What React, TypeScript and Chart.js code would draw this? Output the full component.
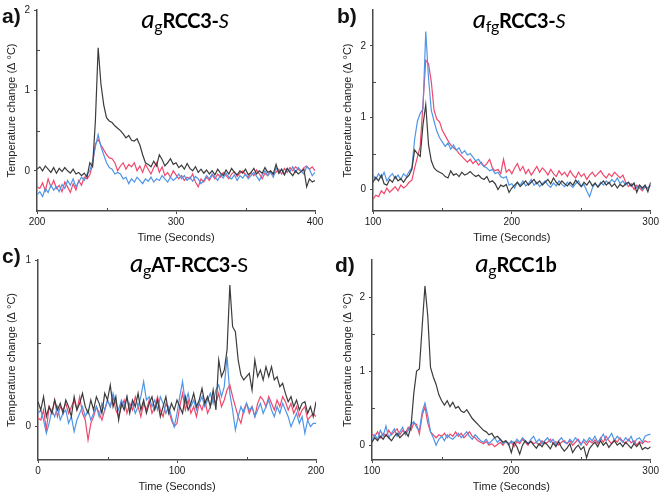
import React, { useEffect, useRef } from 'react';
import { Chart, registerables } from 'chart.js';
Chart.register(...registerables);

const BLACK = '#3c3c3c';
const RED = '#f0476b';
const BLUE = '#4f95e6';
const AXIS = '#4a4a4a';

// ---------- Panel a: agRCC3-S (t = 200..400 s, every 2 s) ----------
const A_T0 = 200;
const A_STEP = 2;
const A_BLACK = [
  0.02, 0.05, 0.00, 0.06, 0.02, -0.02, 0.04, -0.03, 0.03, -0.01,
  0.04, 0.00, -0.03, 0.02, -0.04, -0.02, -0.06, -0.03, -0.08, 0.10,
  0.05, 0.62, 1.53, 1.08, 0.82, 0.66, 0.62, 0.60, 0.56, 0.53,
  0.50, 0.46, 0.41, 0.44, 0.38, 0.37, 0.40, 0.32, 0.20, 0.10,
  0.08, 0.05, 0.12, 0.06, 0.20, 0.14, 0.06, 0.10, 0.15, 0.08,
  0.10, 0.04, 0.07, 0.02, 0.09, 0.03, 0.00, 0.05, -0.02, 0.02,
  -0.03, 0.01, -0.04, 0.00, -0.05, 0.02, -0.03, -0.06, 0.01, -0.04,
  0.03, -0.02, -0.05, 0.00, -0.03, 0.02, -0.05, -0.02, 0.03, -0.04,
  0.00, -0.03, 0.04, -0.02, 0.00, -0.04, 0.08, -0.03, 0.02, -0.05,
  0.03, -0.02, -0.06, 0.00, -0.04, -0.01, 0.02, -0.20, -0.10, -0.14,
  -0.12,
];
const A_RED = [
  -0.20, -0.22, -0.15, -0.25, -0.10, -0.20, -0.12, -0.22, -0.18, -0.26,
  -0.14, -0.20, -0.27, -0.16, -0.24, -0.12, -0.18, -0.08, -0.10, -0.05,
  0.08, 0.33, 0.39, 0.32, 0.26, 0.20, 0.16, 0.15, 0.10, 0.00,
  0.06, 0.10, 0.02, 0.08, 0.05, 0.10, 0.00, 0.06, -0.02, 0.08,
  0.02, -0.04, 0.04, 0.10, -0.02, 0.05, -0.06, -0.02, -0.08, 0.00,
  -0.05, -0.10, -0.06, -0.12, -0.08, -0.10, -0.04, -0.14, -0.20, -0.10,
  -0.14, -0.08, -0.12, -0.05, -0.10, -0.04, -0.08, -0.02, -0.06, -0.10,
  -0.04, -0.01, -0.07, -0.03, 0.00, -0.05, -0.08, -0.02, -0.06, 0.01,
  -0.04, -0.10, -0.03, -0.06, 0.00, -0.05, -0.02, 0.02, -0.04, 0.03,
  -0.02, 0.04, 0.00, 0.05, 0.02, -0.01, 0.04, 0.06, 0.02, 0.05,
  0.00,
];
const A_BLUE = [
  -0.30, -0.26, -0.32, -0.22, -0.27, -0.18, -0.24, -0.20, -0.26, -0.17,
  -0.22, -0.12, -0.18, -0.10, -0.20, -0.14, -0.08, -0.12, -0.04, 0.00,
  0.12, 0.30, 0.45, 0.30, 0.20, 0.10, 0.04, 0.02, -0.04, -0.02,
  -0.04, -0.10, -0.08, -0.16, -0.10, -0.14, -0.08, -0.12, -0.16, -0.10,
  -0.13, -0.08, -0.14, -0.10, -0.12, -0.06, -0.10, -0.14, -0.08, -0.12,
  -0.09, -0.04, -0.10, -0.06, -0.12, -0.08, -0.13, -0.07, -0.10, -0.16,
  -0.12, -0.06, -0.10, -0.04, -0.08, -0.12, -0.05, -0.09, -0.03, -0.08,
  -0.10, -0.05, -0.12, -0.06, -0.09, -0.04, -0.10, -0.06, -0.02, -0.07,
  -0.12, -0.05, 0.00, -0.06, -0.02, -0.08, 0.04, -0.03, 0.02, -0.05,
  0.03, -0.01, 0.05, -0.02, 0.04, 0.00, -0.04, 0.05, 0.02, -0.06,
  -0.02,
];
const A_X_TICKS = [200, 300, 400];
const A_X_MINOR = [250, 350];
const A_Y_TICKS = [0, 1, 2];
const A_Y_MINOR = [0.5, 1.5];

// ---------- Panel b: afgRCC3-S (t = 100..300 s) ----------
const B_T0 = 100;
const B_STEP = 2;
const B_BLACK = [
  0.10, 0.17, 0.12, 0.20, 0.08, 0.06, 0.14, 0.10, 0.18, 0.12,
  0.15, 0.10, 0.16, 0.20, 0.28, 0.55, 0.50, 0.46, 0.90, 1.18,
  0.62, 0.40, 0.30, 0.26, 0.24, 0.22, 0.18, 0.16, 0.26, 0.20,
  0.22, 0.18, 0.24, 0.20, 0.22, 0.25, 0.21, 0.18, 0.20, 0.16,
  0.14, 0.18, 0.10, 0.12, 0.08, 0.00, 0.06, 0.04, 0.07, -0.04,
  0.02, 0.06, 0.10, 0.04, 0.08, 0.12, 0.06, 0.10, 0.14, 0.08,
  0.12, 0.06, 0.10, 0.14, 0.08, 0.16, 0.10, 0.06, 0.12, 0.08,
  0.05, 0.10, 0.06, 0.13, 0.08, 0.04, 0.10, 0.06, 0.12, 0.05,
  0.09, 0.03, 0.08, 0.12, 0.06, 0.10, 0.04, 0.08, 0.02, 0.07,
  0.04, 0.08, 0.10, 0.05, 0.09, -0.04, 0.06, 0.02, 0.06, -0.03,
  0.10,
];
const B_RED = [
  -0.14, -0.08, -0.10, -0.02, -0.06, 0.02, -0.04, 0.00, 0.04, -0.02,
  0.06, 0.02, 0.05, 0.10, 0.13, 0.30, 0.45, 0.60, 1.19, 1.80,
  1.75, 1.50, 1.10, 0.98, 0.94, 0.82, 0.75, 0.68, 0.62, 0.58,
  0.55, 0.50, 0.46, 0.42, 0.38, 0.42, 0.36, 0.40, 0.34, 0.38,
  0.32, 0.36, 0.42, 0.30, 0.26, 0.28, 0.22, 0.42, 0.24, 0.28,
  0.22, 0.30, 0.36, 0.26, 0.32, 0.22, 0.28, 0.20, 0.26, 0.32,
  0.24, 0.30, 0.26, 0.20, 0.28, 0.22, 0.18, 0.26, 0.20, 0.24,
  0.18, 0.26, 0.20, 0.16, 0.24, 0.18, 0.22, 0.14, 0.20, 0.24,
  0.18, 0.22, 0.26, 0.20, 0.16, 0.22, 0.18, 0.24, 0.20, 0.16,
  0.20, 0.10, 0.04, 0.08, 0.00, 0.06, 0.02, -0.02, 0.04, 0.02,
  0.06,
];
const B_BLUE = [
  0.20, 0.14, 0.22, 0.16, 0.24, 0.12, 0.18, 0.22, 0.15, 0.20,
  0.14, 0.22, 0.18, 0.25, 0.30, 0.70, 0.95, 1.06, 1.12, 2.20,
  1.55, 1.10, 0.95, 0.81, 0.72, 0.66, 0.60, 0.65, 0.56, 0.62,
  0.55, 0.58, 0.50, 0.54, 0.48, 0.50, 0.45, 0.40, 0.42, 0.36,
  0.32, 0.30, 0.26, 0.28, 0.22, 0.24, 0.18, 0.16, 0.18, 0.06,
  0.08, 0.02, 0.10, 0.06, 0.12, 0.05, 0.08, 0.14, 0.06, 0.10,
  0.04, 0.08, 0.12, 0.06, 0.03, 0.09, 0.05, 0.12, 0.07, 0.04,
  0.10, 0.06, 0.03, 0.08, 0.12, 0.04, 0.07, -0.02, -0.10, 0.02,
  0.08, 0.04, 0.10, 0.06, 0.12, 0.08, 0.14, 0.10, 0.16, 0.08,
  0.12, 0.06, 0.10, 0.04, 0.08, 0.02, 0.06, 0.00, 0.04, 0.02,
  0.06,
];
const B_X_TICKS = [100, 200, 300];
const B_X_MINOR = [150, 250];
const B_Y_TICKS = [0, 1, 2];
const B_Y_MINOR = [0.5, 1.5];

// ---------- Panel c: agAT-RCC3-S (t = 0..200 s) ----------
const C_T0 = 0;
const C_STEP = 2;
const C_BLACK = [
  0.15, 0.10, 0.18, 0.06, 0.12, 0.08, 0.16, 0.10, 0.14, 0.08,
  0.16, 0.12, 0.06, 0.18, 0.10, 0.14, 0.20, 0.12, 0.08, 0.16,
  0.10, 0.18, 0.14, 0.08, 0.20, 0.16, 0.25, 0.12, 0.18, 0.04,
  0.14, 0.10, 0.18, 0.08, 0.16, 0.12, 0.20, 0.10, 0.16, 0.08,
  0.14, 0.18, 0.10, 0.16, 0.06, 0.12, 0.18, 0.08, 0.14, 0.10,
  0.16, 0.12, 0.08, 0.18, 0.10, 0.14, 0.20, 0.12, 0.16, 0.23,
  0.14, 0.18, 0.12, 0.22, 0.10, 0.40, 0.30, 0.34, 0.46, 0.85,
  0.60, 0.57, 0.40, 0.31, 0.28, 0.30, 0.32, 0.22, 0.40, 0.30,
  0.34, 0.28, 0.36, 0.30, 0.36, 0.28, 0.30, 0.24, 0.26, 0.20,
  0.15, 0.18, 0.12, 0.16, 0.10, 0.14, 0.15, 0.08, 0.12, 0.06,
  0.15,
];
const C_RED = [
  0.05, 0.04, 0.10, -0.02, 0.12, 0.08, 0.16, 0.06, 0.12, 0.10,
  0.14, 0.08, 0.12, 0.16, 0.10, 0.18, 0.08, 0.04, -0.08, 0.02,
  0.06, 0.12, 0.08, 0.04, 0.10, 0.16, 0.12, 0.18, 0.10, 0.06,
  0.12, 0.16, 0.08, 0.14, 0.10, 0.18, 0.12, 0.06, 0.14, 0.10,
  0.16, 0.08, 0.12, 0.18, 0.10, 0.06, 0.14, 0.10, 0.04, 0.00,
  0.02, 0.12, 0.20, 0.10, 0.16, 0.08, 0.12, 0.06, 0.14, 0.10,
  0.16, 0.08, 0.12, 0.18, 0.14, 0.20, 0.12, 0.16, 0.22, 0.25,
  0.18, 0.12, 0.06, 0.02, 0.10, 0.14, 0.08, 0.12, 0.06, 0.14,
  0.18, 0.16, 0.12, 0.18, 0.14, 0.10, 0.16, 0.12, 0.18, 0.15,
  0.10, 0.14, 0.08, 0.12, 0.06, 0.10, 0.12, 0.04, 0.06, 0.08,
  0.06,
];
const C_BLUE = [
  0.08, 0.10, 0.04, -0.04, 0.02, 0.10, 0.06, 0.12, 0.04, 0.08,
  0.10, 0.02, 0.06, -0.03, 0.04, 0.08, 0.12, 0.06, 0.10, 0.04,
  0.08, 0.12, 0.06, 0.14, 0.10, 0.16, 0.12, 0.20, 0.14, 0.10,
  0.16, 0.12, 0.18, 0.10, 0.14, 0.08, 0.12, 0.18, 0.27, 0.16,
  0.18, 0.12, 0.16, 0.10, 0.18, 0.14, 0.08, 0.12, 0.06, 0.00,
  0.08, 0.18, 0.27, 0.14, 0.20, 0.12, 0.16, 0.10, 0.14, 0.18,
  0.12, 0.16, 0.20, 0.14, 0.22, 0.25, 0.18, 0.24, 0.42, 0.20,
  0.10, -0.02, 0.06, 0.12, 0.08, 0.14, 0.10, 0.12, 0.06, 0.10,
  0.14, 0.08, 0.12, 0.16, 0.10, 0.06, 0.12, 0.08, 0.14, 0.10,
  0.06, 0.00, 0.04, 0.08, 0.02, 0.06, -0.04, 0.04, 0.00, 0.02,
  0.02,
];
const C_X_TICKS = [0, 100, 200];
const C_X_MINOR = [50, 150];
const C_Y_TICKS = [0, 1];
const C_Y_MINOR = [0.5];

// ---------- Panel d: agRCC1b (t = 100..300 s) ----------
const D_T0 = 100;
const D_STEP = 2;
const D_BLACK = [
  0.04, 0.10, 0.06, 0.12, 0.08, 0.14, 0.10, 0.06, 0.12, 0.16,
  0.10, 0.14, 0.18, 0.12, 0.25, 0.70, 1.00, 1.03, 1.60, 2.15,
  1.75, 1.05, 0.92, 0.82, 0.68, 0.60, 0.54, 0.60, 0.52, 0.58,
  0.50, 0.52, 0.46, 0.44, 0.48, 0.42, 0.36, 0.32, 0.28, 0.24,
  0.20, 0.18, 0.14, 0.16, 0.10, 0.12, 0.08, 0.04, 0.06, 0.02,
  -0.10, 0.04, -0.02, -0.12, 0.00, 0.06, 0.02, 0.05, 0.00, -0.04,
  0.02, -0.02, 0.04, 0.00, -0.05, 0.03, -0.02, 0.05, -0.03, -0.08,
  -0.04, 0.02, -0.10, -0.04, 0.00, -0.06, -0.02, -0.17, -0.05, 0.00,
  0.04, -0.02, 0.06, 0.00, 0.04, -0.03, 0.02, 0.06, 0.00, 0.03,
  -0.02, 0.04, 0.00, -0.04, 0.02, -0.02, 0.03, -0.06, -0.03, -0.05,
  -0.02,
];
const D_RED = [
  0.15, 0.12, 0.18, 0.10, 0.16, 0.12, 0.20, 0.14, 0.18, 0.22,
  0.14, 0.20, 0.16, 0.24, 0.20, 0.30, 0.28, 0.15, 0.40, 0.52,
  0.30, 0.18, 0.14, 0.10, 0.14, 0.12, 0.16, 0.10, 0.15, 0.12,
  0.18, 0.12, 0.16, 0.10, 0.14, 0.18, 0.12, 0.10, 0.06, 0.04,
  0.02, 0.05, 0.00, 0.02, -0.02, 0.01, 0.04, 0.00, 0.06, 0.02,
  0.04, -0.02, 0.05, 0.02, 0.08, 0.04, 0.00, 0.06, 0.02, 0.04,
  0.00, 0.06, 0.02, 0.04, 0.08, 0.02, 0.05, 0.00, 0.04, 0.06,
  0.02, 0.06, 0.00, 0.04, 0.08, 0.02, 0.05, 0.00, 0.06, 0.03,
  0.07, 0.02, 0.10, 0.04, 0.12, 0.06, 0.02, 0.08, 0.04, 0.10,
  0.05, 0.02, 0.08, 0.03, 0.06, 0.00, 0.05, 0.02, 0.06, 0.04,
  0.05,
];
const D_BLUE = [
  0.05, 0.14, 0.08, 0.20, 0.12, 0.26, 0.10, 0.16, 0.22, 0.12,
  0.18, 0.24, 0.14, 0.20, 0.28, 0.32, 0.24, 0.20, 0.45, 0.57,
  0.40, 0.18, 0.10, 0.00, 0.08, 0.12, 0.06, 0.14, 0.10, 0.08,
  0.12, 0.16, 0.10, 0.14, 0.18, 0.12, 0.08, 0.14, 0.10, 0.06,
  0.04, 0.08, 0.02, 0.06, 0.10, 0.04, 0.08, 0.02, 0.05, 0.00,
  0.06, 0.02, 0.08, 0.04, 0.10, 0.06, 0.02, 0.08, 0.12, 0.04,
  0.08, 0.02, 0.06, 0.10, 0.04, 0.08, 0.00, 0.06, 0.10, 0.04,
  0.02, 0.08, 0.04, 0.10, 0.06, 0.00, 0.08, 0.04, 0.10, 0.06,
  0.12, 0.04, 0.08, 0.15, 0.06, 0.10, 0.16, 0.06, 0.12, 0.08,
  0.04, 0.10, 0.06, 0.12, 0.02, 0.08, 0.10, 0.04, 0.12, 0.14,
  0.15,
];
const D_X_TICKS = [100, 200, 300];
const D_X_MINOR = [150, 250];
const D_Y_TICKS = [0, 1, 2];
const D_Y_MINOR = [0.5, 1.5];

const X_TITLE = 'Time (Seconds)';
const Y_TITLE = 'Temperature change (\u0394 \u00B0C)';

type Rect = { left: number; top: number; width: number; height: number };
type PanelCfg = {
  canvas: Rect;
  plot: { left: number; top: number; right: number; bottom: number };
  t0: number; step: number;
  black: number[]; red: number[]; blue: number[];
  xMin: number; xMax: number; yMin: number; yMax: number;
  xTicks: number[]; xMinor: number[]; yTicks: number[]; yMinor: number[];
  yTitleX: number; xTitleY: number;
};

const minorTicksPlugin = {
  id: 'minorTicks',
  afterDraw(chart: any, _args: any, opts: any) {
    const { ctx, chartArea, scales } = chart;
    ctx.save();
    ctx.strokeStyle = AXIS;
    ctx.lineWidth = 1;
    ctx.beginPath();
    (opts.x || []).forEach((v: number) => {
      const px = Math.round(scales.x.getPixelForValue(v)) + 0.5;
      ctx.moveTo(px, chartArea.bottom);
      ctx.lineTo(px, chartArea.bottom - 3);
    });
    (opts.y || []).forEach((v: number) => {
      const py = Math.round(scales.y.getPixelForValue(v)) + 0.5;
      ctx.moveTo(chartArea.left, py);
      ctx.lineTo(chartArea.left + 3, py);
    });
    ctx.stroke();
    ctx.restore();
  },
};

function toPoints(t0: number, step: number, ys: number[]) {
  return ys.map((y, i) => ({ x: t0 + i * step, y }));
}

function Panel({ cfg }: { cfg: PanelCfg }) {
  const ref = useRef<HTMLCanvasElement>(null);
  useEffect(() => {
    const c = cfg.canvas;
    const padLeft = 0;
    const yWidth = cfg.plot.left - c.left - padLeft;
    const padTop = cfg.plot.top - c.top;
    const padRight = c.left + c.width - cfg.plot.right;
    const xHeight = c.top + c.height - cfg.plot.bottom;
    const tickFont = { family: 'Liberation Sans, Arial, sans-serif', size: 10 };
    const titleFont = { family: 'Liberation Sans, Arial, sans-serif', size: 11 };
    const line = (data: number[], color: string) => ({
      data: toPoints(cfg.t0, cfg.step, data),
      borderColor: color,
      borderWidth: 1.2,
      pointRadius: 0,
      tension: 0,
      fill: false,
    });
    const chart = new Chart(ref.current as HTMLCanvasElement, {
      type: 'line',
      data: {
        datasets: [line(cfg.black, BLACK), line(cfg.blue, BLUE), line(cfg.red, RED)],
      },
      options: {
        responsive: false,
        animation: false,
        events: [],
        layout: { padding: { left: padLeft, top: padTop, right: padRight, bottom: 0 } },
        plugins: {
          legend: { display: false },
          tooltip: { enabled: false },
          minorTicks: { x: cfg.xMinor, y: cfg.yMinor },
        } as any,
        scales: {
          x: {
            type: 'linear',
            min: cfg.xMin,
            max: cfg.xMax,
            afterFit: (s: any) => { s.height = xHeight; },
            afterBuildTicks: (s: any) => { s.ticks = cfg.xTicks.map((v) => ({ value: v })); },
            ticks: { font: tickFont, color: '#222', padding: 2, maxRotation: 0, autoSkip: false },
            grid: { drawOnChartArea: false, drawTicks: true, tickLength: 3, color: AXIS, tickWidth: 1 },
            border: { display: true, color: AXIS, width: 1.5 },
            title: {
              display: true, text: X_TITLE, font: titleFont, color: '#222',
              padding: { top: 0, bottom: c.top + c.height - cfg.xTitleY - 6.6 },
            },
          },
          y: {
            type: 'linear',
            min: cfg.yMin,
            max: cfg.yMax,
            afterFit: (s: any) => { s.width = yWidth; },
            afterBuildTicks: (s: any) => { s.ticks = cfg.yTicks.map((v) => ({ value: v })); },
            ticks: { font: tickFont, color: '#222', padding: 4 },
            grid: { drawOnChartArea: false, drawTicks: true, tickLength: 3, color: AXIS, tickWidth: 1 },
            border: { display: true, color: AXIS, width: 1.5 },
            title: {
              display: true, text: Y_TITLE, font: titleFont, color: '#222',
              padding: { top: cfg.yTitleX - c.left - 6.6, bottom: 0 },
            },
          },
        },
      } as any,
      plugins: [minorTicksPlugin],
    });
    return () => chart.destroy();
  }, [cfg]);
  const c = cfg.canvas;
  return (
    <canvas
      ref={ref}
      width={c.width}
      height={c.height}
      style={{ position: 'absolute', left: c.left, top: c.top, width: c.width, height: c.height }}
    />
  );
}

const PANEL_A: PanelCfg = {
  canvas: { left: 0, top: 0, width: 330, height: 250 },
  plot: { left: 37, top: 6, right: 315, bottom: 211 },
  t0: A_T0, step: A_STEP, black: A_BLACK, red: A_RED, blue: A_BLUE,
  xMin: 200, xMax: 400, yMin: -0.5, yMax: 2,
  xTicks: A_X_TICKS, xMinor: A_X_MINOR, yTicks: A_Y_TICKS, yMinor: A_Y_MINOR,
  yTitleX: 12, xTitleY: 238,
};
const PANEL_B: PanelCfg = {
  canvas: { left: 330, top: 0, width: 331, height: 250 },
  plot: { left: 373, top: 5, right: 651, bottom: 211 },
  t0: B_T0, step: B_STEP, black: B_BLACK, red: B_RED, blue: B_BLUE,
  xMin: 100, xMax: 300, yMin: -0.3, yMax: 2.5,
  xTicks: B_X_TICKS, xMinor: B_X_MINOR, yTicks: B_Y_TICKS, yMinor: B_Y_MINOR,
  yTitleX: 348, xTitleY: 238,
};
const PANEL_C: PanelCfg = {
  canvas: { left: 0, top: 250, width: 330, height: 245 },
  plot: { left: 38, top: 255, right: 316, bottom: 460 },
  t0: C_T0, step: C_STEP, black: C_BLACK, red: C_RED, blue: C_BLUE,
  xMin: 0, xMax: 200, yMin: -0.2, yMax: 1,
  xTicks: C_X_TICKS, xMinor: C_X_MINOR, yTicks: C_Y_TICKS, yMinor: C_Y_MINOR,
  yTitleX: 12, xTitleY: 487,
};
const PANEL_D: PanelCfg = {
  canvas: { left: 330, top: 250, width: 331, height: 245 },
  plot: { left: 372, top: 255, right: 651, bottom: 460 },
  t0: D_T0, step: D_STEP, black: D_BLACK, red: D_RED, blue: D_BLUE,
  xMin: 100, xMax: 300, yMin: -0.2, yMax: 2.5,
  xTicks: D_X_TICKS, xMinor: D_X_MINOR, yTicks: D_Y_TICKS, yMinor: D_Y_MINOR,
  yTitleX: 348, xTitleY: 487,
};

const TITLE_FONT = 'Lato, "Open Sans", sans-serif';

function Title({ cx, top, children }: { cx: number; top: number; children: React.ReactNode }) {
  return (
    <div
      style={{
        position: 'absolute', left: cx, top, transform: 'translateX(-50%)',
        whiteSpace: 'nowrap', fontFamily: TITLE_FONT, fontSize: 20, lineHeight: '20px',
        fontWeight: 700, color: '#000', letterSpacing: -0.3,
      }}
    >
      {children}
    </div>
  );
}

const italicA: React.CSSProperties = { fontStyle: 'italic', fontWeight: 400, fontSize: 26, lineHeight: 0 };
const subG: React.CSSProperties = { fontWeight: 400, fontSize: 16, lineHeight: 0, verticalAlign: -4 };
const italicS: React.CSSProperties = { fontStyle: 'italic', fontWeight: 400 };

function Label({ left, top, text }: { left: number; top: number; text: string }) {
  return (
    <div
      style={{
        position: 'absolute', left, top, fontFamily: 'Liberation Sans, Arial, sans-serif',
        fontWeight: 700, fontSize: 21, lineHeight: '21px', color: '#111',
      }}
    >
      {text}
    </div>
  );
}

export default function App() {
  return (
    <div style={{ position: 'absolute', left: 0, top: 0, width: 661, height: 495, background: '#fff', overflow: 'hidden' }}>
      <Panel cfg={PANEL_A} />
      <Panel cfg={PANEL_B} />
      <Panel cfg={PANEL_C} />
      <Panel cfg={PANEL_D} />
      <Title cx={185} top={10}>
        <span style={italicA}>a</span><span style={subG}>g</span>RCC3-<span style={italicS}>S</span>
      </Title>
      <Title cx={519} top={10}>
        <span style={italicA}>a</span><span style={subG}>fg</span>RCC3-<span style={italicS}>S</span>
      </Title>
      <Title cx={189} top={254}>
        <span style={italicA}>a</span><span style={subG}>g</span>AT-RCC3-<span style={{ fontWeight: 400 }}>S</span>
      </Title>
      <Title cx={516} top={254}>
        <span style={italicA}>a</span><span style={subG}>g</span>RCC1b
      </Title>
      <Label left={2} top={5} text="a)" />
      <Label left={337} top={5} text="b)" />
      <Label left={2} top={245} text="c)" />
      <Label left={335} top={254} text="d)" />
    </div>
  );
}
